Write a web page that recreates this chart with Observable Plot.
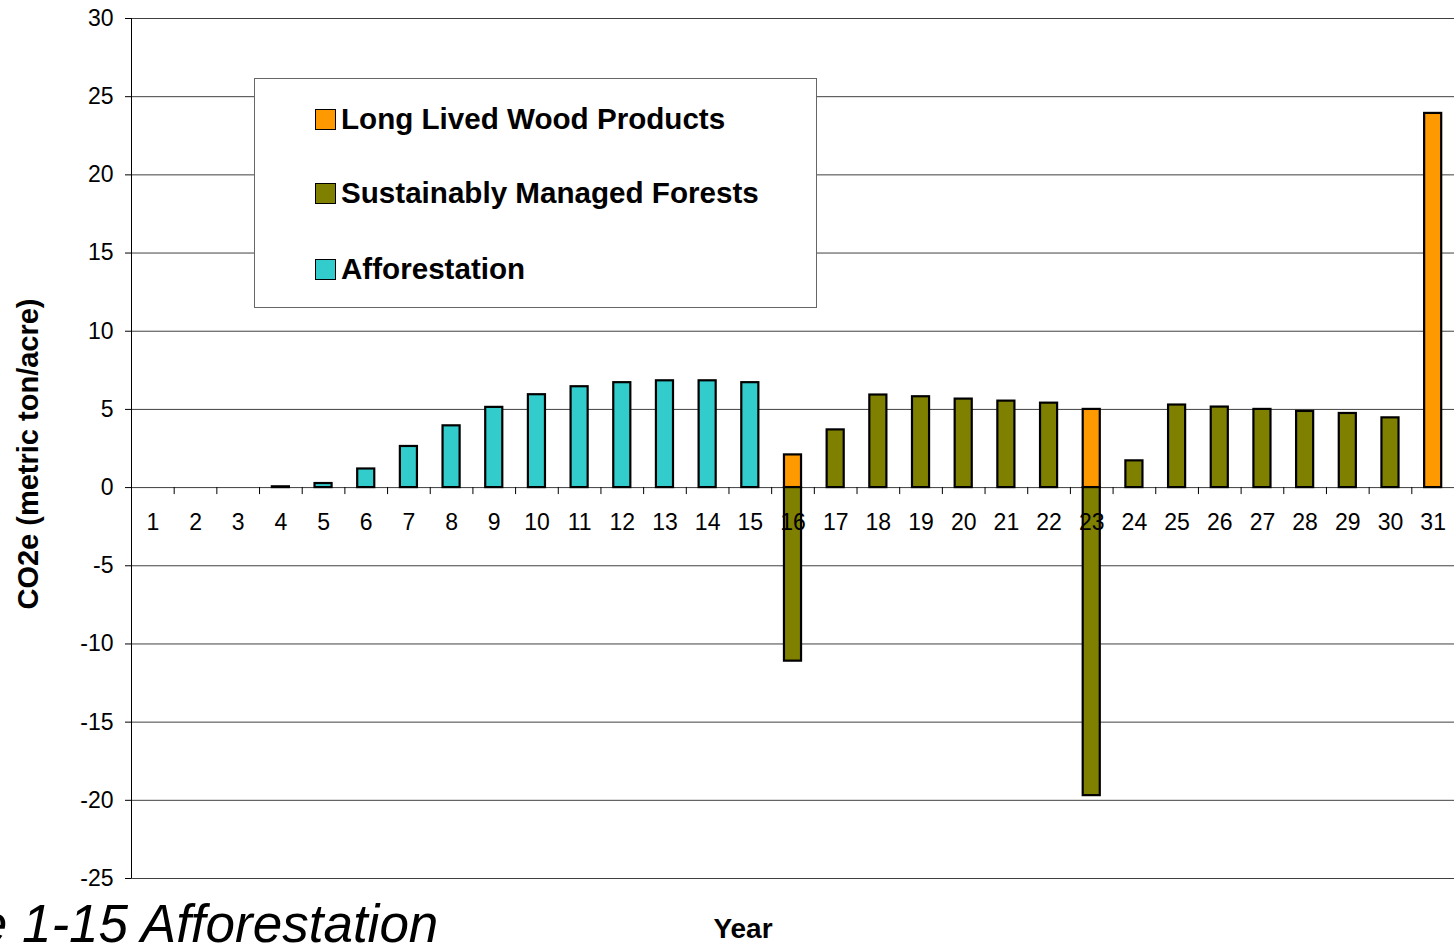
<!DOCTYPE html>
<html>
<head>
<meta charset="utf-8">
<script src="https://cdn.jsdelivr.net/npm/d3@7"></script>
<script src="https://cdn.jsdelivr.net/npm/@observablehq/plot@0.6"></script>
<style>
  html, body { margin: 0; padding: 0; background: #fff; overflow: hidden; }
  #wrap { position: relative; width: 1454px; height: 943px; overflow: hidden; font-family: "Liberation Sans", Arial, sans-serif; }
  #chart { position: absolute; left: 0; top: 0; }
  .legend { position: absolute; left: 254px; top: 78px; width: 561px; height: 228px; background: #fff; border: 1px solid #666; }
  .item { position: absolute; left: 60px; height: 30px; display: flex; align-items: center; font-weight: bold; font-size: 29.6px; color: #000; white-space: nowrap; }
  .sw { width: 19px; height: 19px; border: 1.5px solid #000; margin-right: 5px; flex: none; }
  .ytitle { position: absolute; left: 28px; top: 454px; transform: translate(-50%, -50%) rotate(-90deg); font-weight: bold; font-size: 29px; white-space: nowrap; }
  .xtitle { position: absolute; left: 743px; top: 917px; transform: translateX(-50%); font-weight: bold; font-size: 28px; line-height: 24px; white-space: nowrap; }
  .caption { position: absolute; left: -143px; top: 897px; font-style: italic; font-size: 53px; line-height: 53px; white-space: nowrap; }
</style>
</head>
<body>
<div id="wrap">
  <div id="chart"></div>
</div>
<script>
// ---- data ----
const years = [1,2,3,4,5,6,7,8,9,10,11,12,13,14,15,16,17,18,19,20,21,22,23,24,25,26,27,28,29,30,31];
const seriesNames = ["Long Lived Wood Products", "Sustainably Managed Forests", "Afforestation"];
const seriesColors = ["#FF9900", "#808000", "#33CCCC"];
const afforestation = [0,0,0,0.05,0.26,1.19,2.63,3.95,5.13,5.94,6.45,6.71,6.83,6.83,6.71,
  null,null,null,null,null,null,null,null,null,null,null,null,null,null,null,null];
const managedForests = [null,null,null,null,null,null,null,null,null,null,null,null,null,null,null,
  -11.1,3.69,5.92,5.81,5.66,5.53,5.40,-19.7,1.71,5.28,5.15,5.0,4.87,4.74,4.46,null];
const woodProducts = [null,null,null,null,null,null,null,null,null,null,null,null,null,null,null,
  2.09,null,null,null,null,null,null,5.0,null,null,null,null,null,null,null,23.93];
const yTicks = [-25,-20,-15,-10,-5,0,5,10,15,20,25,30];
const yTitle = "CO2e (metric ton/acre)";
const xTitle = "Year";
const captionText = "Figure 1-15 Afforestation";

// ---- table ----
const rows = [];
const valuesBySeries = [woodProducts, managedForests, afforestation];
years.forEach((yr, i) => {
  valuesBySeries.forEach((vals, s) => {
    if (vals[i] != null) rows.push({year: yr, series: seriesNames[s], value: vals[i]});
  });
});

const W = 1454, H = 943, ML = 131, MR = 0, MT = 18, MB = 65;
const step = (W - ML - MR) / years.length;

const plot = Plot.plot({
  width: W,
  height: H,
  marginLeft: ML,
  marginRight: MR,
  marginTop: MT,
  marginBottom: MB,
  style: {fontFamily: "'Liberation Sans', Arial, sans-serif", fontSize: "23px", color: "#000", background: "#fff"},
  x: {type: "band", domain: years, paddingInner: 0.6, paddingOuter: 0.3, round: false, axis: null},
  y: {domain: [-25, 30], axis: null},
  color: {domain: seriesNames, range: seriesColors},
  marks: [
    Plot.gridY(yTicks, {stroke: "#000", strokeOpacity: 0.75, strokeWidth: 1}),
    // category boundary ticks along zero line
    Plot.ruleX(years.slice(1), {x: d => d, y1: 0, y2: 0, dx: -step / 2, insetBottom: -7, stroke: "#000", strokeWidth: 1}),
    Plot.barY(rows, {x: "year", y: "value", fill: "series", stroke: "#000", strokeWidth: 2.2}),
    Plot.text(years, {x: d => d, y: 0, text: d => String(d), dy: 35, fill: "#000", fontSize: 23}),
    Plot.axisY(yTicks, {tickSize: 6, tickPadding: 12, fontSize: 23, label: null, stroke: "#000", tickFormat: d => String(d)}),
    // left axis line
    Plot.ruleX([years[0]], {x: d => d, y1: -25, y2: 30, dx: -step / 2, stroke: "#000", strokeWidth: 1})
  ]
});
document.getElementById("chart").appendChild(plot);

// ---- overlays: legend & titles ----
const wrap = document.getElementById("wrap");
const legend = document.createElement("div");
legend.className = "legend";
const rowTops = [25, 99, 175];
seriesNames.forEach((name, i) => {
  const it = document.createElement("div");
  it.className = "item";
  it.style.top = rowTops[i] + "px";
  const sw = document.createElement("span");
  sw.className = "sw";
  sw.style.background = seriesColors[i];
  it.appendChild(sw);
  it.appendChild(document.createTextNode(name));
  legend.appendChild(it);
});
wrap.appendChild(legend);

const yt = document.createElement("div");
yt.className = "ytitle"; yt.textContent = yTitle; wrap.appendChild(yt);
const xt = document.createElement("div");
xt.className = "xtitle"; xt.textContent = xTitle; wrap.appendChild(xt);
const cap = document.createElement("div");
cap.className = "caption"; cap.textContent = captionText; wrap.appendChild(cap);
</script>
</body>
</html>
